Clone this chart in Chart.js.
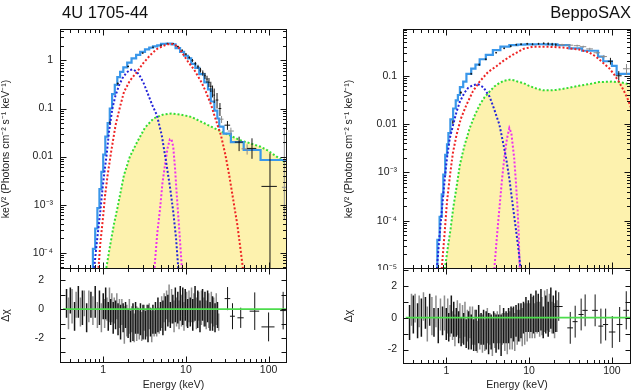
<!DOCTYPE html>
<html>
<head>
<meta charset="utf-8">
<title>4U 1705-44 / BeppoSAX spectra</title>
<script src="https://cdn.jsdelivr.net/npm/chart.js@4.4.1/dist/chart.umd.min.js"></script>
<style>
  html, body { margin: 0; padding: 0; background: #fff; }
  #fig { position: relative; width: 632px; height: 391px; overflow: hidden; }
  #fig canvas { position: absolute; }
</style>
</head>
<body>
<div id="fig">
  <canvas id="leftSpec" width="316" height="270" style="left:0;top:0"></canvas>
  <canvas id="rightSpec" width="316" height="270" style="left:316px;top:0"></canvas>
  <canvas id="leftRes" width="316" height="131" style="left:0;top:260px"></canvas>
  <canvas id="rightRes" width="316" height="131" style="left:316px;top:260px"></canvas>
</div>
<script>
// axis ranges + tick labels
const eRangeL = [0.327, 167];
const eRangeR = [0.324, 170];
const specRangeL = [4.6e-5, 4.5];
const specRangeR = [1e-5, 0.93];
const resRangeL = [-3.73, 2.85];
const resRangeR = [-2.91, 3.12];
const eTicks = [1, 10, 100];
const eTickText = ['1', '10', '100'];
const eMinor = [0.4, 0.5, 0.6, 0.7, 0.8, 0.9, 2, 3, 4, 5, 6, 7, 8, 9, 20, 30, 40, 50, 60, 70, 80, 90];
const specTicksL = [1e-4, 1e-3, 0.01, 0.1, 1];
const specTickTextL = ['10⁻⁴', '10⁻³', '0.01', '0.1', '1'];
const specTicksR = [1e-5, 1e-4, 1e-3, 0.01, 0.1];
const specTickTextR = ['10⁻⁵', '10⁻⁴', '10⁻³', '0.01', '0.1'];
const resTicks = [-2, 0, 2];
const resTickText = ['-2', '0', '2'];
const resMarks = [-3, -2, -1, 0, 1, 2, 3];

// ---- 4U 1705-44 (left) model components, E in keV, keV^2 units
const leftModelE = [0.75, 0.8, 0.85, 0.9, 0.95, 1.0, 1.06, 1.13, 1.2, 1.28, 1.38, 1.48, 1.6, 1.75, 1.95, 2.2, 2.5, 2.8, 3.2, 3.6, 4.0, 4.5, 5.0, 5.85, 6.7, 7.5, 8.5, 9.5, 10.6, 11.6, 13, 14.5, 16.7, 18.5, 20, 22.1, 24, 25.3, 28.5, 35, 50, 80, 131, 167];
const leftModelV = [4e-5, 1.2e-4, 3.2e-4, 8.5e-4, 2.1e-3, 4.8e-3, 0.011, 0.026, 0.05, 0.1, 0.2, 0.31, 0.45, 0.58, 0.72, 0.9, 1.1, 1.3, 1.5, 1.7, 1.85, 1.95, 2.05, 2.2, 2.25, 2.15, 1.8, 1.5, 1.25, 1.1, 0.85, 0.7, 0.52, 0.35, 0.25, 0.14, 0.09, 0.062, 0.042, 0.03, 0.02, 0.0137, 0.0085, 0.0085];
const leftBbE = [0.77, 0.82, 0.87, 0.92, 0.97, 1.03, 1.1, 1.18, 1.29, 1.4, 1.55, 1.7, 1.9, 2.1, 2.3, 2.55, 2.8, 3.1, 3.4, 3.9, 4.45, 5.1, 5.85, 6.5, 7.03, 7.6, 8.1];
const leftBbV = [4e-5, 1.2e-4, 3e-4, 7e-4, 1.8e-3, 4.5e-3, 0.011, 0.035, 0.1, 0.18, 0.3, 0.42, 0.55, 0.63, 0.65, 0.58, 0.46, 0.33, 0.22, 0.12, 0.073, 0.028, 6.6e-3, 2e-3, 7.1e-4, 2e-4, 4.6e-5];
const leftCompE = [0.87, 0.92, 1.0, 1.05, 1.13, 1.25, 1.41, 1.6, 1.78, 2.1, 2.57, 3.0, 3.7, 4.5, 5.85, 6.8, 8.0, 9.0, 10.6, 12.5, 15.3, 17.5, 20.2, 23, 26.5, 30, 33.4, 37, 41.9, 46, 50];
const leftCompV = [4e-5, 1.5e-4, 6e-4, 1.5e-3, 4.1e-3, 0.013, 0.045, 0.11, 0.22, 0.38, 0.58, 0.85, 1.29, 1.75, 2.15, 2.2, 1.95, 1.45, 0.94, 0.65, 0.36, 0.22, 0.118, 0.058, 0.028, 0.011, 4.1e-3, 1.4e-3, 3.8e-4, 1.1e-4, 3.5e-5];
const leftReflE = [1.07, 1.2, 1.35, 1.48, 1.78, 2.1, 2.57, 3.2, 4.06, 5.2, 6.7, 8.5, 11.6, 15, 20.2, 26, 33.4, 45, 60, 80, 95.5, 120, 144, 167];
const leftReflV = [4e-5, 1.3e-4, 4e-4, 8.3e-4, 4.1e-3, 0.01, 0.02, 0.04, 0.062, 0.074, 0.079, 0.075, 0.067, 0.054, 0.042, 0.034, 0.028, 0.022, 0.0188, 0.016, 0.0137, 0.0105, 0.0085, 0.0072];
const leftLineE = [4.13, 4.5, 4.87, 5.2, 5.58, 6.0, 6.4, 6.7, 7.03, 7.4, 7.7, 8.1, 8.5, 9.0];
const leftLineV = [4e-5, 2.5e-4, 8.3e-4, 2.8e-3, 6.6e-3, 0.015, 0.023, 0.023, 0.016, 5.5e-3, 1.9e-3, 5.5e-4, 1.7e-4, 4e-5];
// data crosses: [E, value, half-width, low, high]
const leftDataDark = [[1.2, 0.05, 0.03, 0.046, 0.054], [1.5, 0.33, 0.04, 0.31, 0.35], [2.0, 0.75, 0.05, 0.72, 0.78], [3.0, 1.42, 0.08, 1.38, 1.46], [4.0, 1.88, 0.1, 1.84, 1.92], [5.0, 2.08, 0.12, 2.03, 2.13], [6.0, 2.25, 0.15, 2.18, 2.32], [7.0, 2.25, 0.15, 2.18, 2.32], [8.0, 1.95, 0.2, 1.88, 2.02], [9.0, 1.62, 0.2, 1.55, 1.7], [10, 1.35, 0.25, 1.28, 1.42], [11, 1.15, 0.25, 1.08, 1.22], [12, 1.0, 0.3, 0.93, 1.07], [13, 0.86, 0.3, 0.79, 0.93], [14, 0.74, 0.3, 0.67, 0.81], [15, 0.63, 0.35, 0.56, 0.7], [16, 0.55, 0.35, 0.48, 0.62], [17, 0.48, 0.4, 0.41, 0.55], [18, 0.41, 0.4, 0.34, 0.48], [19, 0.35, 0.4, 0.28, 0.43], [20, 0.29, 0.45, 0.22, 0.36], [21, 0.23, 0.45, 0.17, 0.3], [22, 0.19, 0.5, 0.13, 0.26], [23.8, 0.15, 0.9, 0.1, 0.21], [25.8, 0.1, 1.0, 0.07, 0.13], [31.8, 0.045, 2.5, 0.036, 0.055], [44, 0.02, 5, 0.013, 0.026], [63, 0.0148, 8, 0.009, 0.024], [104, 0.0024, 22, 1e-6, 0.0117]];
const leftDataGray = [[27, 0.06, 1.5, 0.05, 0.07], [35, 0.034, 3, 0.028, 0.04], [55, 0.0145, 8, 0.011, 0.018], [155, 2.3e-3, 10, 5e-4, 0.04]];

// ---- BeppoSAX (right)
const rightModelE = [0.78, 0.83, 0.88, 0.92, 0.97, 1.02, 1.06, 1.12, 1.21, 1.3, 1.38, 1.46, 1.6, 1.75, 2.0, 2.25, 2.53, 3.0, 3.65, 4.5, 5.77, 7.25, 9, 12, 16, 22, 30.6, 43.6, 68, 78.6, 100, 114, 136, 170];
const rightModelV = [1e-5, 4e-5, 1.2e-4, 3.5e-4, 9e-4, 2.3e-3, 3.8e-3, 6.5e-3, 0.0125, 0.021, 0.031, 0.04, 0.058, 0.076, 0.11, 0.14, 0.17, 0.22, 0.27, 0.34, 0.4, 0.43, 0.44, 0.445, 0.45, 0.445, 0.43, 0.37, 0.33, 0.25, 0.2, 0.16, 0.11, 0.11];
const rightBbE = [0.77, 0.82, 0.87, 0.92, 0.97, 1.02, 1.1, 1.21, 1.33, 1.46, 1.65, 1.83, 2.1, 2.41, 2.8, 3.33, 3.8, 4.38, 4.8, 5.27, 5.8, 6.3, 6.9, 7.5, 8.0];
const rightBbV = [1e-5, 4e-5, 1.2e-4, 3.5e-4, 9e-4, 2e-3, 5e-3, 9.7e-3, 0.018, 0.029, 0.044, 0.056, 0.064, 0.067, 0.058, 0.037, 0.02, 9.7e-3, 4.5e-3, 2e-3, 7e-4, 2.3e-4, 7e-5, 2.3e-5, 8e-6];
const rightCompE = [0.88, 0.95, 1.02, 1.11, 1.2, 1.33, 1.5, 1.75, 2.1, 2.53, 3.2, 4.0, 5.0, 6.3, 8.5, 11.1, 16, 25.5, 40, 52, 64, 77, 92, 105, 121, 137, 153, 170];
const rightCompV = [1e-5, 5e-5, 2.5e-4, 8.9e-4, 2.5e-3, 6e-3, 0.013, 0.025, 0.048, 0.076, 0.12, 0.156, 0.21, 0.27, 0.36, 0.4, 0.4, 0.385, 0.35, 0.31, 0.25, 0.19, 0.145, 0.11, 0.076, 0.052, 0.035, 0.022];
const rightReflE = [0.96, 1.05, 1.13, 1.21, 1.33, 1.46, 1.65, 1.92, 2.2, 2.53, 2.9, 3.33, 3.8, 4.38, 5.0, 5.77, 6.5, 7.25, 8.5, 10, 12, 14.7, 18, 21.2, 28, 40, 55, 70, 100, 130, 160, 175];
const rightReflV = [1e-5, 3e-5, 7e-5, 1.8e-4, 5e-4, 1.45e-3, 3.5e-3, 8.3e-3, 0.015, 0.025, 0.036, 0.047, 0.06, 0.071, 0.079, 0.083, 0.081, 0.076, 0.071, 0.062, 0.055, 0.05, 0.05, 0.051, 0.055, 0.062, 0.068, 0.074, 0.076, 0.073, 0.067, 0.064];
const rightLineE = [3.8, 4.1, 4.38, 4.7, 5.02, 5.4, 5.77, 6.1, 6.6, 6.9, 7.25, 7.5, 7.7];
const rightLineV = [1e-5, 5e-5, 1.8e-4, 7e-4, 2e-3, 5e-3, 8.3e-3, 6.5e-3, 2e-3, 7e-4, 1.8e-4, 5e-5, 1e-5];
const rightDataDark = [[1.2, 0.011, 0.03, 0.01, 0.012], [1.5, 0.045, 0.04, 0.042, 0.048], [2.0, 0.11, 0.05, 0.105, 0.115], [2.5, 0.17, 0.06, 0.16, 0.18], [3.0, 0.22, 0.08, 0.21, 0.23], [4.0, 0.3, 0.1, 0.29, 0.31], [5.0, 0.37, 0.12, 0.355, 0.385], [6.0, 0.41, 0.15, 0.39, 0.43], [7.0, 0.44, 0.15, 0.42, 0.46], [8.0, 0.45, 0.2, 0.43, 0.47], [9.5, 0.46, 0.25, 0.44, 0.48], [11, 0.45, 0.25, 0.43, 0.47], [13, 0.46, 0.3, 0.44, 0.48], [15, 0.47, 0.35, 0.45, 0.49], [17, 0.46, 0.4, 0.43, 0.49], [19, 0.45, 0.4, 0.42, 0.48], [21, 0.44, 0.45, 0.41, 0.47], [96, 0.2, 7, 0.17, 0.235], [121, 0.1, 10, 0.08, 0.125]];
const rightDataGray = [[25, 0.44, 2, 0.42, 0.46], [31, 0.43, 3, 0.41, 0.45], [38, 0.42, 3.5, 0.4, 0.44], [45, 0.4, 4, 0.38, 0.42], [54, 0.36, 5, 0.34, 0.38], [66, 0.3, 6, 0.28, 0.32], [80, 0.25, 7, 0.23, 0.27], [150, 0.14, 14, 0.105, 0.175]];

// ---- residuals (delta chi), same energy grid for the dense part
const resGridE = [0.36, 0.38, 0.40, 0.42, 0.45, 0.47, 0.50, 0.53, 0.56, 0.59, 0.63, 0.67, 0.71, 0.75, 0.80, 0.85, 0.90, 0.95,
  1.00, 1.04, 1.07, 1.11, 1.15, 1.19, 1.23, 1.27, 1.32, 1.36, 1.41, 1.46, 1.51, 1.57, 1.62, 1.68, 1.74, 1.80, 1.86, 1.93,
  2.00, 2.07, 2.14, 2.21, 2.29, 2.37, 2.46, 2.54, 2.63, 2.73, 2.82, 2.92, 3.03, 3.13, 3.24, 3.36, 3.48, 3.60, 3.73, 3.86,
  3.99, 4.13, 4.28, 4.43, 4.59, 4.75, 4.92, 5.09, 5.27, 5.45, 5.65, 5.84, 6.05, 6.26, 6.48, 6.71, 6.95, 7.19, 7.45, 7.71,
  7.98, 8.26, 8.55, 8.85, 9.16, 9.48, 9.81, 10.2, 10.5, 10.9, 11.3, 11.7, 12.1, 12.5, 12.9, 13.4, 13.9, 14.3, 14.8, 15.4,
  15.9, 16.5, 17.0, 17.6, 18.3, 18.9, 19.6, 20.3, 21.0, 21.7, 22.5, 23.3, 24.1, 24.9];
const leftResV = [0.4, -0.3, 0.6, 0.2, -0.5, 0.3, 0.5, -0.2, 0.1, 0.4, -0.6, 0.2, 0.3, -0.1, 0.5, -0.4, 0.1, -0.6,
  0.2, -0.3, 0.4, 0.0, -0.5, 0.3, -0.2, 0.1, -0.6, -0.1, -0.4, 0.2, -0.7, -0.3, -0.9, -0.2, -0.6, -1.1, -0.4, -0.8,
  -1.0, -0.5, -1.2, -0.7, -0.9, -1.3, -0.6, -1.0, -0.8, -1.1, -0.7, -1.2, -0.9, -0.6, -1.1, -0.8, -1.0, -0.5, -0.9, -1.2,
  -0.7, -1.0, -0.6, -0.9, -0.4, -0.8, -0.5, -0.2, -0.6, 0.1, -0.3, 0.3, -0.1, 0.4, -0.4, 0.2, 0.0, -0.5, 0.3, -0.2,
  0.1, -0.4, 0.4, -0.1, 0.2, -0.5, 0.3, 0.0, -0.3, 0.2, -0.2, 0.3, -0.4, 0.1, 0.4, -0.3, 0.0, 0.2, -0.5, 0.1,
  0.3, -0.2, 0.0, -0.4, 0.2, -0.1, -0.5, 0.1, -0.3, -0.2, -0.6, 0.0, -0.4, -0.9];
const leftResErr = [1.0, 1.1, 0.9, 1.2, 1.0, 0.9, 1.1, 1.0, 1.2, 0.9, 1.0, 1.1, 0.9, 1.0, 1.1, 0.9, 1.2, 1.0,
  0.9, 1.0, 1.1, 0.8, 1.0, 1.2, 0.9, 1.0, 1.1, 0.9, 1.0, 0.9, 1.1, 1.0, 1.2, 0.9, 1.0, 1.3, 0.9, 1.1,
  1.0, 1.2, 1.1, 0.9, 1.3, 1.0, 1.1, 1.2, 0.9, 1.0, 1.1, 1.0, 1.2, 0.9, 1.0, 1.1, 1.3, 0.9, 1.0, 1.1,
  1.0, 0.9, 1.1, 1.0, 1.2, 0.9, 1.0, 1.1, 1.2, 1.0, 1.2, 1.0, 1.1, 1.3, 0.9, 1.2, 1.0, 1.1, 1.2, 1.0,
  1.1, 1.0, 1.2, 1.1, 1.3, 1.0, 1.1, 1.2, 1.0, 1.1, 1.0, 1.2, 1.1, 1.0, 1.2, 1.1, 1.3, 1.0, 1.1, 1.2,
  1.1, 1.0, 1.2, 1.0, 1.1, 1.2, 1.0, 1.1, 1.2, 1.0, 1.0, 1.1, 0.9, 0.6];
const rightResV = [-0.3, 0.5, 0.2, 0.6, -0.2, 0.4, 0.0, 0.7, 0.3, -0.4, 0.5, 0.1, -0.3, 0.4, -0.5, 0.2, -0.2, 0.3,
  -0.4, 0.1, -0.6, -0.2, 0.2, -0.5, -0.1, -0.8, -0.3, 0.0, -0.6, -0.2, -0.9, -0.4, -0.7, -0.1, -1.0, -0.5, -0.8, -0.3,
  -0.9, -0.5, -1.1, -0.6, -0.8, -1.2, -0.4, -0.9, -0.7, -1.0, -0.6, -1.1, -0.8, -0.5, -1.0, -0.7, -0.9, -1.2, -0.6, -0.8,
  -1.0, -0.6, -0.9, -0.4, -1.1, -0.7, -0.5, -0.9, -0.6, -1.0, -0.5, -0.8, -0.3, -0.7, -0.4, -0.9, -0.2, -0.6, -0.3, -0.5,
  -0.2, -0.6, 0.0, -0.4, 0.2, -0.3, 0.1, -0.2, 0.3, 0.0, 0.2, -0.2, 0.4, 0.0, 0.3, -0.1, 0.5, 0.1, -0.3, 0.4,
  0.2, 0.5, -0.1, 0.3, 0.6, 0.0, 0.2, -0.2, 0.4, 0.1];
const rightResErr = [1.1, 1.0, 1.2, 0.9, 1.1, 1.0, 1.2, 0.9, 1.0, 1.1, 1.0, 1.2, 0.9, 1.0, 1.1, 1.0, 0.9, 1.1,
  1.0, 1.1, 0.9, 1.0, 1.2, 0.9, 1.1, 1.0, 0.9, 1.1, 1.0, 1.1, 0.9, 1.2, 1.0, 1.1, 0.9, 1.0, 1.2, 1.0,
  1.1, 1.2, 1.0, 1.1, 1.3, 1.0, 1.2, 1.1, 1.0, 1.2, 1.1, 1.0, 1.2, 1.1, 1.3, 1.0, 1.1, 1.2, 1.0, 1.1,
  1.2, 1.0, 1.1, 1.2, 1.3, 1.0, 1.1, 1.2, 1.0, 1.3, 1.1, 1.2, 1.0, 1.3, 1.1, 1.2, 1.0, 1.1, 1.2, 1.0,
  1.1, 1.2, 1.0, 1.3, 1.1, 1.2, 1.0, 1.1, 1.2, 1.3, 1.2, 1.1, 1.3, 1.0, 1.2, 1.1, 1.3, 1.2, 1.0, 1.3,
  1.2, 1.3, 1.1, 1.2, 1.3, 1.0, 1.2, 1.1, 1.3, 1.0];
// sparse high-energy residuals: [E, value, half-width, error]
const leftResFar = [[31.9, 0.73, 2.5, 0.8], [36.6, -0.49, 2.5, 0.9], [46, -0.6, 4, 0.7], [68, -0.14, 9, 1.3], [100, -1.23, 18, 1.0], [150, -0.1, 12, 1.3]];
const rightResFar = [[22.8, 0.7, 2.6, 0.9], [31.4, -0.64, 2.5, 1.0], [36, -0.25, 2.5, 1.0], [42.5, 0.2, 3, 1.0], [47.5, 0.46, 3.5, 1.0], [62.7, 0.46, 5, 1.0], [73.6, -0.53, 5, 1.1], [84, -0.43, 6, 1.0], [101, -0.9, 9, 1.0], [124, -0.43, 10, 1.1], [149, 0.46, 12, 1.2]];

const font = '"Liberation Sans", Arial, Helvetica, sans-serif';
Chart.defaults.font.family = font;
Chart.defaults.font.size = 10.5;
Chart.defaults.color = '#222';

const ink = {
  model: '#3a97ea', bb: '#2424d8', comp: '#ee2424', refl: '#33dd33', line: '#ee30ee',
  fill: '#fdf2ae', zero: '#4cdc4c', dark: '#151515', gray: '#8c8c8c'
};

// frame + inward ticks on all sides
const frameTicks = {
  id: 'frameTicks',
  afterDraw(chart, args, o) {
    if (!o.on) return;
    const { ctx, chartArea: a } = chart;
    const x = chart.scales.x, y = chart.scales.y;
    const L = Math.round(a.left) + 0.5, R = Math.round(a.right) - 0.5;
    const T = Math.round(a.top) + 0.5, B = Math.round(a.bottom) - 0.5;
    ctx.save();
    ctx.strokeStyle = '#111';
    ctx.lineWidth = 1;
    ctx.beginPath();
    const xt = (vals, len) => vals.forEach(v => {
      if (v <= x.min || v >= x.max) return;
      const p = Math.round(x.getPixelForValue(v)) + 0.5;
      ctx.moveTo(p, B); ctx.lineTo(p, B - len);
      ctx.moveTo(p, T); ctx.lineTo(p, T + len);
    });
    const yt = (vals, len) => vals.forEach(v => {
      if (v <= y.min || v >= y.max) return;
      const p = Math.round(y.getPixelForValue(v)) + 0.5;
      ctx.moveTo(L, p); ctx.lineTo(L + len, p);
      ctx.moveTo(R, p); ctx.lineTo(R - len, p);
    });
    xt(eTicks, 6);
    xt(eMinor, 3.5);
    if (y.type === 'logarithmic') {
      const minor = [];
      for (let d = Math.floor(Math.log10(y.min)); d <= Math.ceil(Math.log10(y.max)); d++) {
        for (let m = 2; m <= 9; m++) minor.push(m * Math.pow(10, d));
      }
      yt(o.yMajor, 6);
      yt(minor, 3.5);
    } else {
      yt(o.yMajor, 5);
    }
    ctx.stroke();
    ctx.strokeRect(L, T, R - L, B - T);
    ctx.restore();
  }
};

// error bars drawn from the dataset's own points
const errorBars = {
  id: 'errorBars',
  afterDatasetDraw(chart, args) {
    const ds = chart.data.datasets[args.index];
    if (!ds.errorBars) return;
    const { ctx, chartArea: a } = chart;
    const x = chart.scales.x, y = chart.scales.y;
    ctx.save();
    ctx.beginPath();
    ctx.rect(a.left, a.top, a.right - a.left, a.bottom - a.top);
    ctx.clip();
    ctx.strokeStyle = ds.barColor;
    ctx.lineWidth = ds.barWidth || 1;
    ctx.beginPath();
    ds.data.forEach(p => {
      const px = x.getPixelForValue(p.x), py = y.getPixelForValue(p.y);
      ctx.moveTo(x.getPixelForValue(p.xl), py);
      ctx.lineTo(x.getPixelForValue(p.xh), py);
      ctx.moveTo(px, y.getPixelForValue(p.yl));
      ctx.lineTo(px, y.getPixelForValue(p.yh));
    });
    ctx.stroke();
    ctx.restore();
  }
};

const panelTitle = {
  id: 'panelTitle',
  afterDraw(chart, args, o) {
    if (!o.text) return;
    const { ctx, chartArea: a } = chart;
    ctx.save();
    ctx.font = '16.5px ' + font;
    ctx.fillStyle = '#111';
    ctx.textAlign = o.align;
    ctx.textBaseline = 'alphabetic';
    ctx.fillText(o.text, o.align === 'left' ? a.left + 2 : a.right, 18);
    ctx.restore();
  }
};

Chart.register(frameTicks, errorBars, panelTitle);

const pairs = (E, V) => E.map((e, i) => ({ x: e, y: V[i] }));
const curve = (E, V, color) => ({
  data: pairs(E, V), borderColor: color, borderWidth: 2, borderDash: [2, 2],
  pointRadius: 0, fill: false, tension: 0
});
const crosses = (rows, color) => ({
  data: rows.map(r => ({ x: r[0], y: r[1], xl: r[0] - r[2], xh: r[0] + r[2], yl: r[3], yh: r[4] })),
  showLine: false, pointRadius: 0, errorBars: true, barColor: color
});

// keep chart area exactly where the layout padding puts it
const noLabelPad = s => { s.paddingTop = 0; s.paddingBottom = 0; s.paddingLeft = 0; s.paddingRight = 0; };

function yAxis(type, range, vals, text, width, title, titlePad, tickPad) {
  return {
    type, min: range[0], max: range[1],
    afterFit: s => { s.width = width; noLabelPad(s); },
    afterBuildTicks: s => { s.ticks = vals.map(v => ({ value: v })); },
    ticks: { callback: (v, i) => text[i], padding: tickPad, autoSkip: false, maxRotation: 0 },
    grid: { display: false, drawTicks: false },
    border: { display: false },
    title: { display: true, text: title, padding: { top: titlePad, bottom: 0 } }
  };
}

function spectrum(id, p) {
  return new Chart(document.getElementById(id), {
    type: 'line',
    data: {
      datasets: [
        curve(p.bbE, p.bbV, ink.bb),
        curve(p.compE, p.compV, ink.comp),
        curve(p.lineE, p.lineV, ink.line),
        crosses(p.dark, ink.dark),
        crosses(p.gray, ink.gray),
        { data: pairs(p.modelE, p.modelV), borderColor: ink.model, borderWidth: 2.2, stepped: 'after', pointRadius: 0, fill: false },
        Object.assign(curve(p.reflE, p.reflV, ink.refl), { fill: 'start', backgroundColor: ink.fill })
      ]
    },
    options: {
      responsive: false, animation: false, events: [],
      layout: { padding: p.pad },
      plugins: {
        legend: { display: false }, tooltip: { enabled: false },
        frameTicks: { on: true, yMajor: p.ticks },
        panelTitle: p.title
      },
      scales: {
        x: { type: 'logarithmic', min: p.eRange[0], max: p.eRange[1], display: false, afterFit: noLabelPad },
        y: yAxis('logarithmic', p.range, p.ticks, p.tickText, p.axisW,
          'keV² (Photons cm⁻² s⁻¹ keV⁻¹)', p.titlePad, p.tickPad)
      }
    }
  });
}

function residuals(id, p) {
  const dense = p.vals.map((v, i) => ({
    x: resGridE[i], y: v, xl: resGridE[i] / 1.017, xh: resGridE[i] * 1.017, yl: v - p.errs[i], yh: v + p.errs[i]
  }));
  const far = p.far.map(r => ({ x: r[0], y: r[1], xl: r[0] - r[2], xh: r[0] + r[2], yl: r[1] - r[3], yh: r[1] + r[3] }));
  return new Chart(document.getElementById(id), {
    type: 'line',
    data: {
      datasets: [
        { data: [{ x: p.eRange[0], y: 0 }, { x: p.eRange[1], y: 0 }], borderColor: ink.zero, borderWidth: 1.6, pointRadius: 0, fill: false },
        { data: far, showLine: false, pointRadius: 0, errorBars: true, barColor: ink.dark },
        { data: dense.filter((d, i) => i % 2 === 0), showLine: false, pointRadius: 0, errorBars: true, barColor: ink.dark, barWidth: 1.5 },
        { data: dense.filter((d, i) => i % 2 === 1), showLine: false, pointRadius: 0, errorBars: true, barColor: ink.gray, barWidth: 1.5 }
      ]
    },
    options: {
      responsive: false, animation: false, events: [],
      layout: { padding: p.pad },
      plugins: {
        legend: { display: false }, tooltip: { enabled: false },
        frameTicks: { on: true, yMajor: resMarks }
      },
      scales: {
        x: {
          type: 'logarithmic', min: p.eRange[0], max: p.eRange[1],
          afterFit: s => { s.height = p.axisH; noLabelPad(s); },
          afterBuildTicks: s => { s.ticks = eTicks.map(v => ({ value: v })); },
          ticks: { callback: (v, i) => eTickText[i], padding: 1, autoSkip: false, maxRotation: 0 },
          grid: { display: false, drawTicks: false },
          border: { display: false },
          title: { display: true, text: 'Energy (keV)', padding: { top: 0, bottom: 0 } }
        },
        y: yAxis('linear', p.range, resTicks, resTickText, p.axisW, 'Δχ', p.titlePad, p.tickPad)
      }
    }
  });
}

spectrum('leftSpec', {
  eRange: eRangeL, range: specRangeL, ticks: specTicksL, tickText: specTickTextL,
  modelE: leftModelE, modelV: leftModelV, bbE: leftBbE, bbV: leftBbV, compE: leftCompE, compV: leftCompV,
  reflE: leftReflE, reflV: leftReflV, lineE: leftLineE, lineV: leftLineV, dark: leftDataDark, gray: leftDataGray,
  pad: { top: 29, right: 29, bottom: 1, left: 0 }, axisW: 60, titlePad: 0, tickPad: 7,
  title: { text: '4U 1705-44', align: 'left' }
});
spectrum('rightSpec', {
  eRange: eRangeR, range: specRangeR, ticks: specTicksR, tickText: specTickTextR,
  modelE: rightModelE, modelV: rightModelV, bbE: rightBbE, bbV: rightBbV, compE: rightCompE, compV: rightCompV,
  reflE: rightReflE, reflV: rightReflV, lineE: rightLineE, lineV: rightLineV, dark: rightDataDark, gray: rightDataGray,
  pad: { top: 29, right: 1, bottom: 1, left: 0 }, axisW: 87, titlePad: 27, tickPad: 6,
  title: { text: 'BeppoSAX', align: 'right' }
});
residuals('leftRes', {
  eRange: eRangeL, range: resRangeL, vals: leftResV, errs: leftResErr, far: leftResFar,
  pad: { top: 8, right: 29, bottom: 0, left: 0 }, axisW: 60, axisH: 28, titlePad: 0, tickPad: 16
});
residuals('rightRes', {
  eRange: eRangeR, range: resRangeR, vals: rightResV, errs: rightResErr, far: rightResFar,
  pad: { top: 8, right: 1, bottom: 0, left: 0 }, axisW: 87, axisH: 27, titlePad: 27, tickPad: 6
});
</script>
</body>
</html>
